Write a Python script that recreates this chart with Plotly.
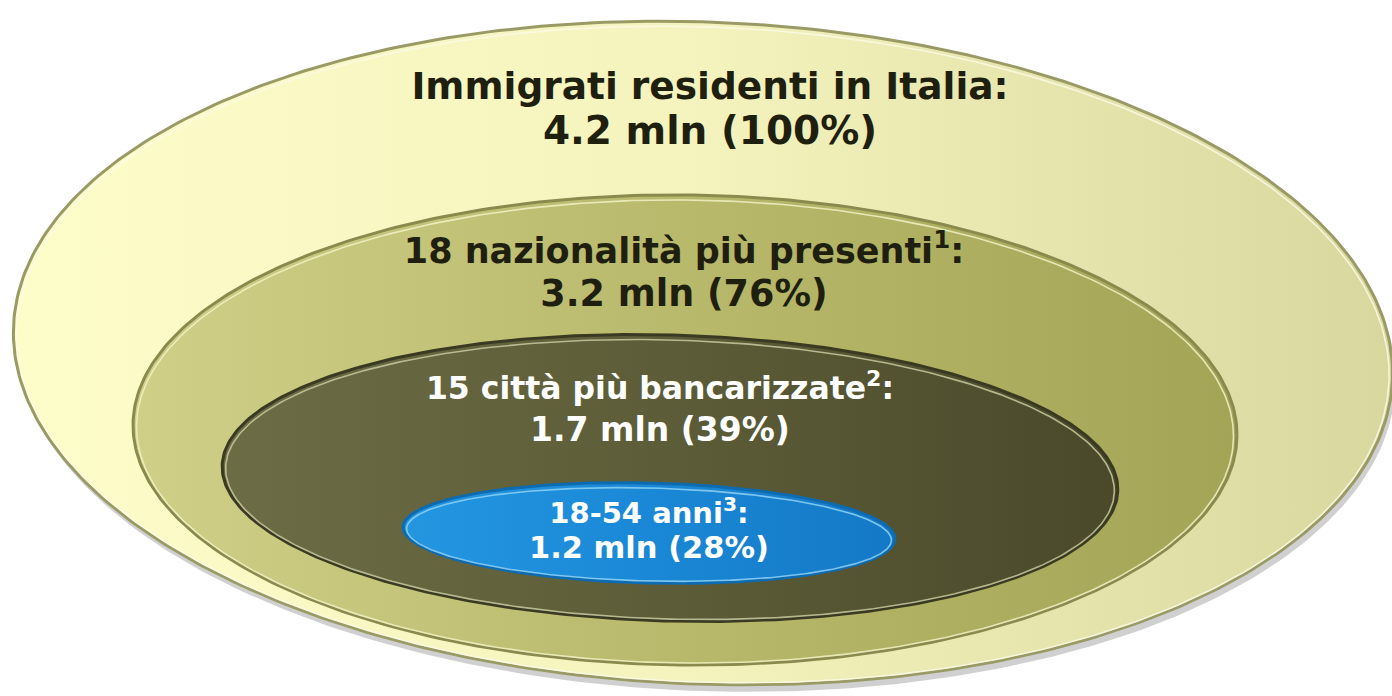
import numpy as np
import plotly.graph_objects as go

# dati
livelli = [
    "Immigrati residenti in Italia:",
    "18 nazionalità più presenti<sup>1</sup>:",
    "15 città più bancarizzate<sup>2</sup>:",
    "18-54 anni<sup>3</sup>:",
]
milioni = [4.2, 3.2, 1.7, 1.2]
quote = [100, 76, 39, 28]

# geometria degli ovali (pixel, y verso il basso)
centri_x = [703, 685, 670, 649]
centri_y = [353, 430, 478, 533]
raggi_x = [690, 552, 448, 246]
raggi_y = [331, 235, 143, 50]
rotazioni = [2.2, 0.6, 1.6, 1.4]

# posizione delle due righe di testo per ogni livello
testo_x = [710, 684, 660, 649]
riga1_y = [90, 254, 391, 516]
riga2_y = [134, 297, 433, 550]
size_riga1 = [37.5, 35, 31.5, 29]
size_riga2 = [39, 36.5, 33, 30.5]
testo_colori = ["#1f1f10", "#1f1f10", "#ffffff", "#ffffff"]

riempimenti = [
    ["#fdfdca", "#f4f3bd", "#d8d79e"],
    ["#cfcf88", "#b9b96c", "#a4a457"],
    ["#6c6c45", "#5c5c38", "#4a4a2b"],
    ["#2496e0", "#1a88d6", "#1479c6"],
]
bordi = ["#9a9a66", "#8a8a4e", "#3a3a22", "#0f6bb0"]
luci = ["#fbfbe6", "#f2f2c6", "#c9c9a0", "#8fd3f7"]


def ovale(cx, cy, rx, ry, rot, n=400):
    t = np.linspace(0, 2 * np.pi, n)
    a = np.radians(rot)
    x = rx * np.cos(t)
    y = ry * np.sin(t)
    return cx + x * np.cos(a) - y * np.sin(a), cy + x * np.sin(a) + y * np.cos(a)


fig = go.Figure()

# ombra del piatto
sx, sy = ovale(centri_x[0] + 3, centri_y[0] + 7, raggi_x[0], raggi_y[0], rotazioni[0])
fig.add_trace(go.Scatter(x=sx, y=sy, mode="lines", fill="toself",
                         fillcolor="rgba(120,120,120,0.35)", line=dict(width=0),
                         hoverinfo="skip"))

for i in range(len(livelli)):
    x, y = ovale(centri_x[i], centri_y[i], raggi_x[i], raggi_y[i], rotazioni[i])
    c = riempimenti[i]
    fig.add_trace(go.Scatter(
        x=x, y=y, mode="lines", fill="toself",
        fillgradient=dict(type="horizontal",
                          colorscale=[[0, c[0]], [0.5, c[1]], [1, c[2]]]),
        line=dict(color=bordi[i], width=3),
        hoverinfo="skip",
    ))
    # riflesso sul bordo
    lx, ly = ovale(centri_x[i], centri_y[i] + 1.5, raggi_x[i] - 3.5, raggi_y[i] - 3.5, rotazioni[i])
    fig.add_trace(go.Scatter(x=lx, y=ly, mode="lines",
                             line=dict(color=luci[i], width=1.6),
                             opacity=0.85, hoverinfo="skip"))

for i in range(len(livelli)):
    for testo, yy, sz in [(livelli[i], riga1_y[i], size_riga1[i]),
                          (f"{milioni[i]} mln ({quote[i]}%)", riga2_y[i], size_riga2[i])]:
        fig.add_trace(go.Scatter(
            x=[testo_x[i]], y=[yy], mode="text", text=[testo],
            textposition="middle center",
            textfont=dict(family="DejaVu Sans", size=sz,
                          color=testo_colori[i], weight="bold"),
            hoverinfo="skip",
        ))

fig.update_layout(
    width=1392,
    height=696,
    margin=dict(l=0, r=0, t=0, b=0),
    paper_bgcolor="white",
    plot_bgcolor="white",
    showlegend=False,
    xaxis=dict(range=[0, 1392], visible=False, fixedrange=True),
    yaxis=dict(range=[696, 0], visible=False, fixedrange=True),
)

fig.write_html("out.html", config=dict(displayModeBar=False),
               post_script="document.body.style.margin='0';")
